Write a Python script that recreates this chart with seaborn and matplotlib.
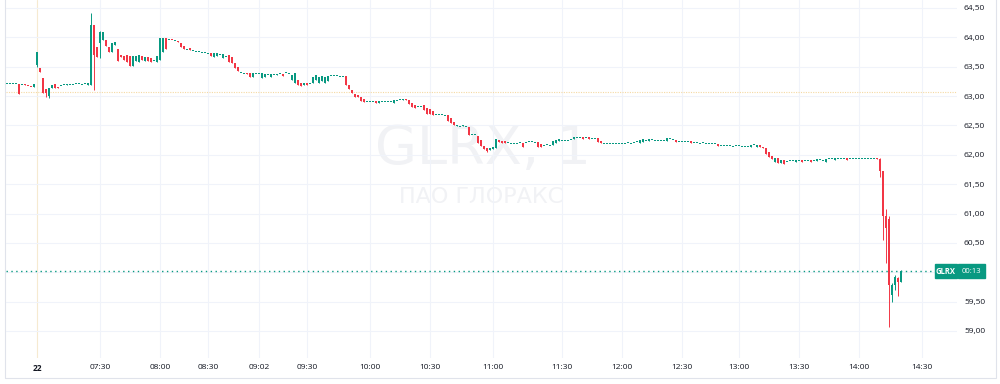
import numpy as np
import pandas as pd
import seaborn as sns
import matplotlib.pyplot as plt
from matplotlib import transforms
from matplotlib.patches import Rectangle

# 1-minute candles, GLRX (bars without trades are skipped, like TradingView)
opens = [
    63.22, 63.22, 63.22, 63.22, 63.20, 63.20, 63.20, 63.18, 63.16, 63.15,
    63.53, 63.48, 63.30, 63.12, 63.00, 63.14, 63.20, 63.16, 63.18, 63.19,
    63.19, 63.20, 63.20, 63.21, 63.21, 63.20, 63.21, 63.19, 63.19, 64.21,
    63.84, 63.90, 63.95, 63.95, 63.84, 63.75, 63.87, 63.80, 63.70, 63.68,
    63.70, 63.68, 63.52, 63.60, 63.58, 63.68, 63.60, 63.66, 63.64, 63.60,
    63.58, 63.62, 63.75, 63.99, 63.97, 63.96, 63.94, 63.93, 63.90, 63.85,
    63.80, 63.82, 63.77, 63.76, 63.76, 63.75, 63.74, 63.73, 63.74, 63.67,
    63.68, 63.70, 63.65, 63.68, 63.70, 63.66, 63.56, 63.50, 63.40, 63.39,
    63.39, 63.39, 63.32, 63.39, 63.38, 63.31, 63.33, 63.37, 63.33, 63.36,
    63.36, 63.38, 63.38, 63.40, 63.39, 63.27, 63.22, 63.27, 63.22, 63.19,
    63.23, 63.21, 63.22, 63.28, 63.22, 63.25, 63.23, 63.26, 63.35, 63.35,
    63.35, 63.34, 63.34, 63.34, 63.19, 63.10, 63.04, 63.02, 62.98, 62.95,
    62.90, 62.90, 62.91, 62.92, 62.88, 62.91, 62.91, 62.90, 62.91, 62.89,
    62.92, 62.93, 62.94, 62.95, 62.93, 62.88, 62.84, 62.82, 62.83, 62.84,
    62.80, 62.78, 62.75, 62.69, 62.68, 62.68, 62.67, 62.68, 62.62, 62.56,
    62.49, 62.49, 62.49, 62.49, 62.47, 62.34, 62.34, 62.32, 62.25, 62.15,
    62.12, 62.08, 62.10, 62.12, 62.26, 62.23, 62.23, 62.21, 62.20, 62.20,
    62.20, 62.21, 62.20, 62.21, 62.22, 62.22, 62.21, 62.21, 62.18, 62.16,
    62.17, 62.16, 62.16, 62.20, 62.24, 62.25, 62.25, 62.25, 62.26, 62.27,
    62.30, 62.30, 62.30, 62.29, 62.30, 62.28, 62.28, 62.28, 62.24, 62.20,
    62.20, 62.19, 62.20, 62.20, 62.19, 62.20, 62.20, 62.21, 62.20, 62.21,
    62.22, 62.20, 62.22, 62.25, 62.23, 62.26, 62.25, 62.24, 62.25, 62.24,
    62.24, 62.27, 62.26, 62.26, 62.23, 62.23, 62.22, 62.23, 62.23, 62.21,
    62.21, 62.20, 62.21, 62.20, 62.20, 62.20, 62.19, 62.19, 62.15, 62.15,
    62.15, 62.15, 62.14, 62.15, 62.15, 62.14, 62.14, 62.14, 62.14, 62.17,
    62.14, 62.17, 62.13, 62.12, 62.04, 61.98, 61.88, 61.94, 61.86, 61.92,
    61.89, 61.90, 61.90, 61.88, 61.91, 61.92, 61.90, 61.91, 61.91, 61.90,
    61.90, 61.92, 61.91, 61.88, 61.93, 61.93, 61.92, 61.94, 61.93, 61.93,
    61.94, 61.93, 61.93, 61.94, 61.94, 61.93, 61.94, 61.94, 61.94, 61.94,
    61.94, 61.93, 61.72, 60.95, 60.90, 59.62, 59.78, 59.90, 59.83,
]
closes = [
    63.22, 63.22, 63.22, 63.22, 63.03, 63.20, 63.19, 63.17, 63.15, 63.20,
    63.75, 63.41, 63.05, 63.05, 63.14, 63.19, 63.14, 63.13, 63.18, 63.19,
    63.20, 63.20, 63.21, 63.21, 63.21, 63.20, 63.21, 63.22, 64.21, 63.70,
    63.67, 64.09, 64.09, 63.85, 63.75, 63.90, 63.92, 63.60, 63.66, 63.62,
    63.58, 63.52, 63.68, 63.68, 63.70, 63.62, 63.66, 63.60, 63.58, 63.60,
    63.68, 63.99, 63.99, 63.80, 63.97, 63.95, 63.94, 63.92, 63.83, 63.80,
    63.80, 63.78, 63.77, 63.76, 63.76, 63.75, 63.74, 63.73, 63.68, 63.73,
    63.74, 63.70, 63.72, 63.68, 63.58, 63.56, 63.48, 63.42, 63.40, 63.39,
    63.38, 63.32, 63.39, 63.39, 63.38, 63.40, 63.38, 63.37, 63.38, 63.36,
    63.37, 63.38, 63.35, 63.40, 63.39, 63.36, 63.39, 63.19, 63.17, 63.23,
    63.19, 63.21, 63.33, 63.36, 63.32, 63.34, 63.32, 63.35, 63.35, 63.35,
    63.35, 63.34, 63.34, 63.19, 63.12, 63.05, 62.99, 62.98, 62.92, 62.90,
    62.90, 62.90, 62.91, 62.88, 62.92, 62.91, 62.91, 62.90, 62.91, 62.93,
    62.92, 62.94, 62.95, 62.94, 62.87, 62.82, 62.80, 62.82, 62.83, 62.76,
    62.70, 62.69, 62.68, 62.69, 62.68, 62.68, 62.67, 62.58, 62.54, 62.50,
    62.51, 62.49, 62.50, 62.49, 62.33, 62.34, 62.34, 62.20, 62.15, 62.10,
    62.07, 62.12, 62.13, 62.27, 62.21, 62.20, 62.20, 62.21, 62.20, 62.20,
    62.20, 62.21, 62.13, 62.21, 62.22, 62.22, 62.21, 62.14, 62.14, 62.16,
    62.17, 62.16, 62.24, 62.26, 62.27, 62.25, 62.25, 62.25, 62.26, 62.30,
    62.30, 62.30, 62.27, 62.29, 62.27, 62.28, 62.28, 62.22, 62.20, 62.20,
    62.20, 62.19, 62.20, 62.20, 62.19, 62.20, 62.20, 62.21, 62.20, 62.21,
    62.22, 62.25, 62.27, 62.25, 62.27, 62.26, 62.25, 62.24, 62.25, 62.24,
    62.28, 62.27, 62.26, 62.22, 62.23, 62.23, 62.22, 62.23, 62.20, 62.21,
    62.21, 62.20, 62.21, 62.20, 62.20, 62.20, 62.19, 62.15, 62.15, 62.15,
    62.15, 62.15, 62.14, 62.15, 62.15, 62.14, 62.14, 62.14, 62.17, 62.17,
    62.17, 62.13, 62.11, 62.02, 61.96, 61.93, 61.94, 61.86, 61.92, 61.85,
    61.89, 61.90, 61.90, 61.92, 61.91, 61.88, 61.90, 61.91, 61.88, 61.90,
    61.93, 61.92, 61.91, 61.93, 61.93, 61.93, 61.94, 61.94, 61.93, 61.93,
    61.92, 61.93, 61.93, 61.94, 61.94, 61.93, 61.94, 61.94, 61.94, 61.94,
    61.93, 61.72, 60.95, 60.75, 59.78, 59.78, 59.92, 59.83, 60.02,
]
# wicks that reach beyond the candle body (bar index -> price)
wick_hi = {28: 64.41, 31: 64.10, 291: 61.95, 293: 61.08, 294: 60.95,
           295: 59.82, 296: 59.95, 297: 59.92, 298: 60.03}
wick_lo = {10: 63.50, 13: 62.98, 14: 62.97, 29: 63.10, 31: 63.65, 160: 62.05,
           291: 61.62, 292: 60.55, 293: 60.15, 294: 59.07, 295: 59.50,
           296: 59.70, 297: 59.60}

time_labels = ['22', '07:30', '08:00', '08:30', '09:02', '09:30', '10:00', '10:30',
               '11:00', '11:30', '12:00', '12:30', '13:00', '13:30', '14:00', '14:30']
time_bars = [10, 31, 51, 67, 84, 100, 121, 141, 162, 185, 205, 225, 244, 264, 284, 305]
price_ticks = [59.0, 59.5, 60.0, 60.5, 61.0, 61.5, 62.0, 62.5, 63.0, 63.5, 64.0, 64.5]

last_price = 60.02
prev_close = 63.07
symbol = 'GLRX'
countdown = '00:13'
title = 'GLRX, 1'
company = 'ПАО ГЛОРАКС'

UP = '#089981'
DOWN = '#f23645'
GRID = '#f0f3fa'
TEXT = '#131722'

sns.set_theme(style='white')
plt.rcParams['font.family'] = ['Open Sans', 'DejaVu Sans']

df = pd.DataFrame({'open': opens, 'close': closes})
df['bar'] = np.arange(len(df))
df['high'] = df[['open', 'close']].max(axis=1)
df['low'] = df[['open', 'close']].min(axis=1)
for k, v in wick_hi.items():
    df.loc[k, 'high'] = max(df.loc[k, 'high'], v)
for k, v in wick_lo.items():
    df.loc[k, 'low'] = min(df.loc[k, 'low'], v)
df['up'] = df['close'] >= df['open']
min_h = 0.017
body = (df['close'] - df['open']).abs()
df['body_h'] = body.clip(lower=min_h)
df['body_lo'] = np.where(body < min_h, (df['open'] + df['close']) / 2 - min_h / 2,
                         df[['open', 'close']].min(axis=1))

fig = plt.figure(figsize=(10, 3.84), dpi=100)
ax = fig.add_axes([6 / 1000, 1 - 358 / 384, 951 / 1000, 358 / 384])
ax.set_xlim(-1 / 3, -1 / 3 + 951 / 3)
ax.set_ylim(58.54, 64.636)

ax.set_xticks(time_bars)
ax.set_xticklabels(time_labels)
ax.set_yticks(price_ticks)
ax.set_yticklabels(['' if p == last_price.__round__(0) else f'{p:.2f}'.replace('.', ',')
                    for p in price_ticks])
ax.yaxis.tick_right()
ax.grid(True, color=GRID, lw=0.8)
ax.set_axisbelow(True)
ax.xaxis.get_gridlines()[0].set_color('#f6ead0')
ax.tick_params(axis='y', length=0, pad=5, labelsize=6, labelcolor=TEXT)
ax.tick_params(axis='x', length=0, pad=4, labelsize=6, labelcolor=TEXT)
ax.get_xticklabels()[0].set_fontweight('bold')
for s in ax.spines.values():
    s.set_visible(False)

# watermark
ax.text(0.501, 0.585, title, transform=ax.transAxes, ha='center', va='center',
        fontsize=39, color='#f1f2f5', family='DejaVu Sans', zorder=0)
ax.text(0.5, 0.45, company, transform=ax.transAxes, ha='center', va='center',
        fontsize=16, color='#f1f2f5', family='DejaVu Sans', zorder=0)

# previous close and last price lines
ax.axhline(prev_close, color='#f5d9a3', lw=0.8, ls=(0, (1, 1.2)), zorder=1)
ax.axhline(last_price, xmax=(932 - 6) / 951, color=UP, lw=1.0, ls=(0, (1, 2.5)), zorder=1)

for up, col in [(True, UP), (False, DOWN)]:
    d = df[df['up'] == up]
    ax.vlines(d['bar'], d['low'], d['high'], color=col, lw=0.7, zorder=2)
    ax.bar(d['bar'], d['body_h'], bottom=d['body_lo'], width=0.68, color=col,
           linewidth=0, zorder=3)

# price label boxes
blend = transforms.blended_transform_factory(fig.transFigure, ax.transData)
hh = 14 / 58.73
ax.add_patch(Rectangle((935 / 1000, last_price - hh / 2), 22 / 1000, hh, transform=blend,
                       color=UP, clip_on=False, zorder=5))
ax.add_patch(Rectangle((958 / 1000, last_price - hh / 2), 27 / 1000, hh, transform=blend,
                       color=UP, clip_on=False, zorder=5))
ax.text(946 / 1000, last_price, symbol, transform=blend, ha='center', va='center',
        color='white', fontsize=5.5, fontweight='bold', clip_on=False, zorder=6)
ax.text(971.5 / 1000, last_price, countdown, transform=blend, ha='center', va='center',
        color='white', fontsize=5.5, clip_on=False, zorder=6)

fig.patches.append(Rectangle((5 / 1000, 1 - 378 / 384), 991 / 1000, 1.2,
                             transform=fig.transFigure, fill=False,
                             edgecolor='#e0e3eb', lw=0.8))

fig.savefig('out.png', dpi=100)
